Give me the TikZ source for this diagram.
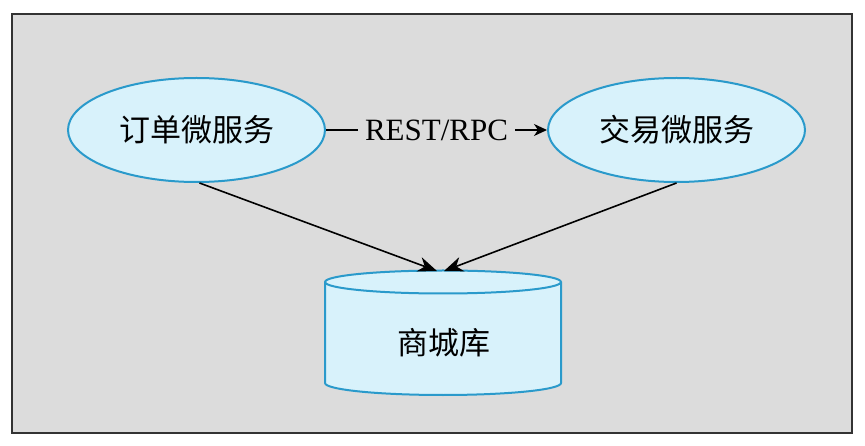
\documentclass[tikz,border=0pt]{standalone}
\usepackage{fontspec}
\setmainfont{Liberation Serif}
\newfontfamily\cjk{Noto Sans CJK SC}
\usetikzlibrary{shapes.geometric,arrows.meta}
\definecolor{bg}{HTML}{DCDCDC}
\definecolor{cfill}{HTML}{D8F2FB}
\definecolor{cdraw}{HTML}{2A9ACB}
\begin{document}
\begin{tikzpicture}[x=1pt,y=-1pt,
  svc/.style={ellipse,draw=cdraw,fill=cfill,line width=2pt,minimum width=257pt,minimum height=104pt,inner sep=0pt,font=\cjk\fontsize{31}{34}\selectfont},
  cyl/.style={draw=cdraw,fill=cfill,line width=2pt},
  conn/.style={line width=1.6pt,-{Stealth[length=19pt,width=15pt,inset=6pt]}}
]
\useasboundingbox (0,0) rectangle (865,446);
\node[draw=black!80,line width=2.2pt,fill=bg,minimum width=840pt,minimum height=419pt,inner sep=0pt] (frame) at (432,223.5) {};
\node[svc] (order) at (196.5,130) {订单微服务};
\node[svc] (trade) at (676.5,130) {交易微服务};
% cylinder drawn directly
\path[cyl] (325,282) -- (325,383) arc[start angle=180,end angle=360,x radius=118,y radius=-12] -- (561,282) arc[start angle=0,end angle=180,x radius=118,y radius=-11.5] -- cycle;
\draw[cyl,fill=none] (325,282) arc[start angle=180,end angle=360,x radius=118,y radius=-11.5];
\node[inner sep=0pt,minimum width=236pt,minimum height=113pt] (store) at (443,326.5) {};
\node[font=\cjk\fontsize{31}{34}\selectfont] (storelbl) at (444,343) {商城库};
\draw[line width=1.6pt,-{Stealth[length=13pt,width=12pt,inset=4pt]}] (order.east) -- node[fill=bg,inner xsep=7pt,font=\fontsize{31}{34}\selectfont] (lbl) {REST/RPC} (trade.west);
\coordinate (t1) at (437,271);
\coordinate (t2) at (444,271);
\draw[conn] (order.south) ++(3,0) coordinate (s1) -- (t1);
\draw[conn] (trade.south) coordinate (s2) -- (t2);
\end{tikzpicture}
\end{document}
